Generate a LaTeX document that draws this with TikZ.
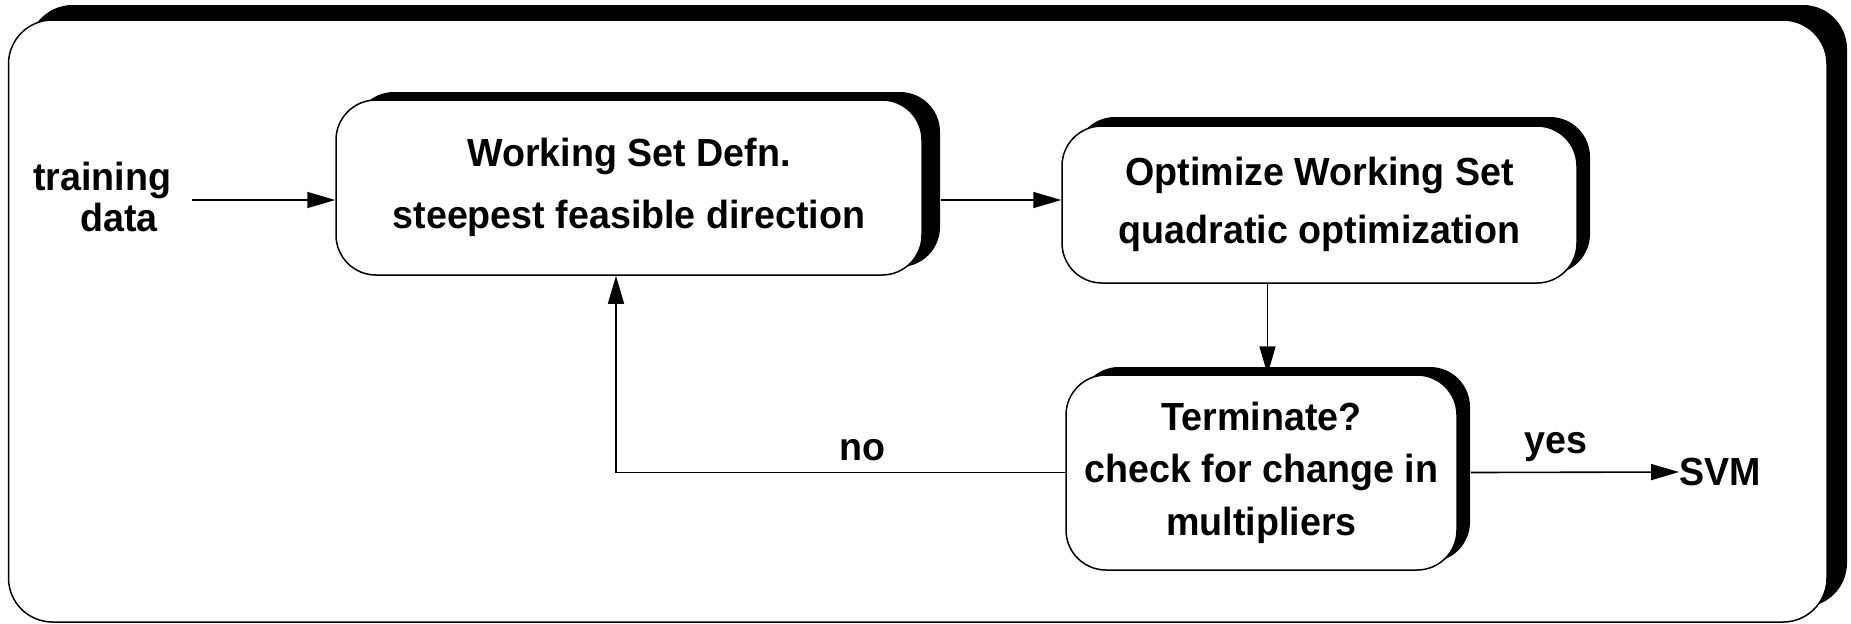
\documentclass[tikz,border=0pt]{standalone}
\usepackage{fontspec}
\setmainfont{Liberation Sans}[FakeStretch=0.96]
\usetikzlibrary{arrows.meta,shadows}
\begin{document}
\begin{tikzpicture}[x=0.5pt,y=-0.5pt,
  lbl/.style={font=\bfseries\fontsize{19.6}{22}\selectfont, inner sep=0pt},
  arr/.style={line width=0.8pt, -{Triangle[length=14pt,width=8pt]}},
  framefront/.style={draw, line width=0.75pt, fill=white, rounded corners=22pt},
  frameshadow/.style={fill=black, rounded corners=22pt},
  box/.style={draw, line width=0.75pt, fill=white, rounded corners=20pt,
    align=center, inner sep=0pt, font=\bfseries\fontsize{19.6}{#1}\selectfont},
  shad/.style 2 args={drop shadow={shadow xshift=#1, shadow yshift=#2, fill=black, opacity=1}}
]
\useasboundingbox (0,0) rectangle (1851,623);
% outer frame
\fill[frameshadow] (28.5,5) rectangle (1847,607);
\path[framefront] (8.5,20) rectangle (1827,622);

% boxes
\node[box=31.3pt, shad={9pt}{4pt}, minimum width=293pt, minimum height=87.5pt] (b1) at (629,187.5)
  {Working Set Defn.\\steepest feasible direction};
\node[box=29.2pt, shad={6.5pt}{4.5pt}, minimum width=257.5pt, minimum height=78.5pt] (b2) at (1319.5,204.5)
  {Optimize Working Set\\quadratic optimization};
\node[box=26.3pt, shad={6.5pt}{4pt}, minimum width=195.5pt, minimum height=97.5pt] (b3) at (1261.5,472.5)
  {Terminate?\\check for change in\\multipliers};

% texts
\node[lbl, anchor=base] (tr1) at (102,190) {training};
\node[lbl, anchor=base] (tr2) at (119,231) {data};
\node[lbl, anchor=west] (svm) at (1679,472) {SVM};
\node[lbl, anchor=base] (no) at (862,460) {no};
\node[lbl, anchor=base] (yes) at (1556,453) {yes};

\coordinate (tstart) at (192,200);
\coordinate (a12) at (941,200);

% connectors
\draw[arr] (tstart) -- (tstart -| b1.west);
\draw[arr] (a12) -- (a12 -| b2.west);
\draw[arr] ([xshift=3pt]b3.north |- b2.south) -- ([xshift=3pt]b3.north);
\draw[arr] (b3.west) -| ([xshift=-6.5pt]b1.south);
\draw[arr] ([xshift=6.5pt]b3.east) -- (svm.west);
\end{tikzpicture}
\end{document}
